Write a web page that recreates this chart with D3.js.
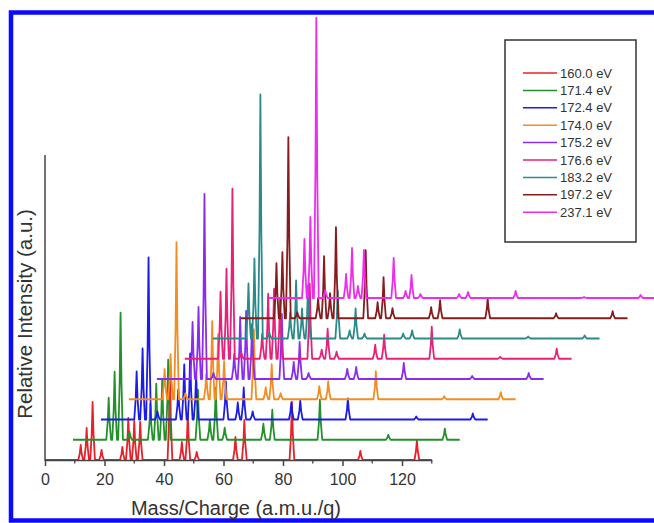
<!DOCTYPE html>
<html><head><meta charset="utf-8">
<script src="https://cdn.jsdelivr.net/npm/d3@7"></script>
<style>html,body{margin:0;padding:0;background:#fff;}svg{display:block;}</style>
</head><body>
<script>
// ---- data ----
const energies = ["160.0 eV","171.4 eV","172.4 eV","174.0 eV","175.2 eV","176.6 eV","183.2 eV","197.2 eV","237.1 eV"];
const colors = ["#e8202a","#23912a","#1c1ce8","#f58c20","#8a2cf0","#e8207a","#2b8a8a","#871c1c","#ee2cee"];
const peakMz = [12,14,16,19,26,28,30,32,42,46,48,51,64,67,83,106,125];
const s160 = [15,32,58,10,13,42,39,38,90,18,46,8,23,40,58,9,20];
const s171 = [42,68,127,8,36,56,60,80,50,20,52,12,16,30,40,5,11];
const s172 = [48,71,162,8,30,55,66,45,38,17,32,8,17,19,21,3,6];
const s174 = [30,45,157,6,25,78,65,38,70,12,35,6,13,18,28,3,7];
const s175 = [57,72,185,6,25,62,68,55,65,17,37,6,10,12,16,3,6];
const s176 = [67,90,170,6,25,65,70,60,75,9,30,7,14,24,32,2,10];
const s183 = [55,80,244,6,26,58,30,53,48,8,30,5,5,8,9,2,3];
const s197 = [55,66,181,6,20,62,25,91,68,16,41,10,11,18,20,5,7];
const s237 = [59,81,280,8,24,50,12,48,40,7,23,4,4,6,7,1,3];
const seriesValues = [s160,s171,s172,s174,s175,s176,s183,s197,s237];
const xTicks = [0,20,40,60,80,100,120];
const xMinor = [10,30,50,70,90,110,130];
const mzMax = 130;
const xShift = 9.4;   // per-series offset in m/z units
const yShift = 20.25; // per-series offset in intensity units

const W = 654, H = 523;
const svg = d3.select("body").append("svg").attr("width", W).attr("height", H)
  .style("font-family", "Arial, 'Liberation Sans', sans-serif");

// blue frame
svg.append("rect").attr("x", 11).attr("y", 12.5).attr("width", 700).attr("height", 508)
  .attr("fill", "none").attr("stroke", "#0a0aff").attr("stroke-width", 4.5);

const x = d3.scaleLinear().domain([0, 130]).range([45, 431.75]);
const y = d3.scaleLinear().domain([0, 305]).range([460, 155]);

// spectra
const line = d3.line().x(d => x(d[0])).y(d => y(d[1]));
seriesValues.forEach((vals, i) => {
  const pts = [[0, 0]];
  peakMz.forEach((m, k) => {
    pts.push([m - 0.8, 0], [m - 0.3, vals[k] * 0.45], [m, vals[k]], [m + 0.3, vals[k] * 0.45], [m + 0.8, 0]);
  });
  pts.push([mzMax, 0]);
  const shifted = pts.map(p => [p[0] + xShift * i, p[1] + yShift * i]);
  svg.append("path").datum(shifted).attr("d", line)
    .attr("fill", "none").attr("stroke", colors[i]).attr("stroke-width", 1.8)
    .attr("stroke-linejoin", "round");
});

// axes
const gx = svg.append("g").attr("transform", "translate(0,460)");
gx.call(d3.axisBottom(x).tickValues(xTicks).tickSize(6).tickSizeOuter(0).tickFormat(d3.format("d")));
gx.select(".domain").attr("stroke", "#444").attr("stroke-width", 1.5);
gx.selectAll(".tick line").attr("stroke", "#444").attr("stroke-width", 1.5);
gx.selectAll(".tick text").attr("fill", "#333").attr("font-size", 16).attr("dy", "1.0em")
  .style("font-family", "Arial, 'Liberation Sans', sans-serif");
gx.selectAll(".minor").data(xMinor).enter().append("line")
  .attr("x1", d => x(d)).attr("x2", d => x(d)).attr("y1", 0).attr("y2", 3.5)
  .attr("stroke", "#444").attr("stroke-width", 1.3);

svg.append("line").attr("x1", 45).attr("x2", 45).attr("y1", 155).attr("y2", 460.7)
  .attr("stroke", "#444").attr("stroke-width", 1.5);

svg.append("text").attr("x", 236).attr("y", 515).attr("text-anchor", "middle")
  .attr("font-size", 20).attr("fill", "#333").text("Mass/Charge (a.m.u./q)");
svg.append("text").attr("transform", "translate(32,314) rotate(-90)").attr("text-anchor", "middle")
  .attr("font-size", 20.5).attr("fill", "#333").text("Relative Intensity (a.u.)");

// legend
const lg = svg.append("g");
lg.append("rect").attr("x", 505).attr("y", 40).attr("width", 131).attr("height", 202)
  .attr("fill", "#fff").attr("stroke", "#333").attr("stroke-width", 1.5);
energies.forEach((e, i) => {
  const yy = 73 + i * 17.4;
  lg.append("line").attr("x1", 523).attr("x2", 557).attr("y1", yy).attr("y2", yy)
    .attr("stroke", colors[i]).attr("stroke-width", 1.5);
  lg.append("text").attr("x", 560).attr("y", yy + 4.5).attr("font-size", 13)
    .attr("fill", "#333").text(e);
});
</script>
</body></html>
